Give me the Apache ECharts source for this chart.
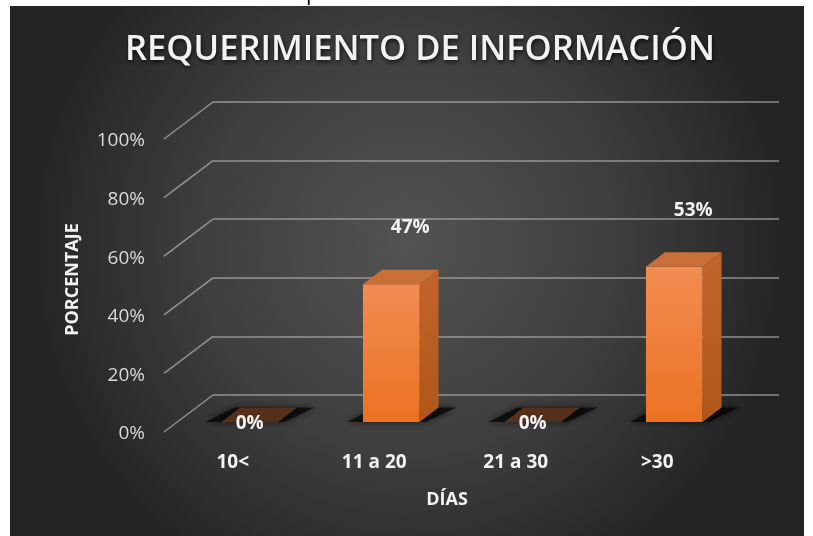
<!DOCTYPE html>
<html><head><meta charset="utf-8">
<script src="https://cdn.jsdelivr.net/npm/echarts@6/dist/echarts.min.js"></script>
<style>html,body{margin:0;padding:0;background:#fff}#c{width:813px;height:536px}</style>
</head><body><div id="c"></div>
<script>
const categories = ['10<', '11 a 20', '21 a 30', '>30'];
const values = [0, 0.47, 0, 0.53];
const yTicks = [0, 0.2, 0.4, 0.6, 0.8, 1];
const titleText = 'REQUERIMIENTO DE INFORMACIÓN';
const xName = 'DÍAS';
const yName = 'PORCENTAJE';

const FONT = '"Open Sans", sans-serif';
const chart = echarts.init(document.getElementById('c'), null, {renderer: 'canvas'});

const DEPTH = [19, -14.5];   // bar depth vector
const FRONT = [-34, 27];     // bar front face offset from back wall
const FLOOR = [-49, 37];     // floor front edge offset from back wall

function barItem(params, api) {
  const idx = api.value(0), v = api.value(1);
  const base = api.coord([idx, 0]);
  const top = api.coord([idx, v]);
  const bw = api.size([1, 0])[0] * 0.4;
  const cx = base[0] + FRONT[0];
  const x0 = cx - bw / 2, x1 = cx + bw / 2;
  const yb = base[1] + FRONT[1], yt = top[1] + FRONT[1];
  const dx = DEPTH[0], dy = DEPTH[1];
  const ch = [];
  ch.push({type: 'polygon', z2: 1,
    shape: {points: [[x0 - 16, yb], [x1 + 6, yb], [x1 + dx + 18, yb + dy], [x0 + dx - 6, yb + dy]]},
    style: {fill: 'rgba(0,0,0,0.65)', shadowBlur: 7, shadowColor: 'rgba(0,0,0,0.9)'}});
  if (v > 0) {
    ch.push({type: 'polygon', z2: 2,
      shape: {points: [[x1, yt], [x1 + dx, yt + dy], [x1 + dx, yb + dy], [x1, yb]]},
      style: {fill: {type: 'linear', x: 0, y: 0, x2: 0, y2: 1, colorStops: [{offset: 0, color: '#c2652a'}, {offset: 1, color: '#b0561b'}]}}});
    ch.push({type: 'rect', z2: 3,
      shape: {x: x0, y: yt, width: bw, height: yb - yt},
      style: {fill: {type: 'linear', x: 0, y: 0, x2: 0, y2: 1, colorStops: [{offset: 0, color: '#f28c52'}, {offset: 1, color: '#eb7222'}]}}});
  }
  ch.push({type: 'polygon', z2: 4,
    shape: {points: [[x0, yt], [x1, yt], [x1 + dx, yt + dy], [x0 + dx, yt + dy]]},
    style: {fill: v > 0 ? '#c96f38' : '#55301a'}});
  const lx = v > 0 ? cx + dx : cx;
  const ly = v > 0 ? yt + dy - 42 : yb + 2;
  ch.push({type: 'text', z2: 5,
    style: {text: Math.round(v * 100) + '%', x: lx, y: ly, align: 'center', verticalAlign: 'middle',
      fill: '#f2f2f2', font: 'bold 19px ' + FONT}});
  return {type: 'group', children: ch};
}

function gridDiag(params, api) {
  const p = api.coord([0, api.value(1)]);
  const gx = params.coordSys.x;
  return {type: 'line', shape: {x1: gx, y1: p[1], x2: gx + FLOOR[0], y2: p[1] + FLOOR[1]},
    style: {stroke: 'rgba(175,175,175,0.75)', lineWidth: 1.5}};
}

const option = {
  animation: false,
  graphic: [
    {type: 'text', z: -20, style: {text: 'p', x: 306, y: 5, verticalAlign: 'bottom', fill: '#000', font: '22px ' + FONT}},
    {type: 'rect', z: -10, shape: {x: 10, y: 6, width: 794, height: 530},
      style: {fill: {type: 'radial', x: 0.5, y: 0.45, r: 0.72,
        colorStops: [{offset: 0, color: '#525252'}, {offset: 0.55, color: '#3e3e3e'}, {offset: 1, color: '#242424'}]}}}
  ],
  title: {
    text: titleText, left: 415, top: 28, textAlign: 'center',
    textStyle: {fontFamily: FONT, fontSize: 34.5, fontWeight: 600, color: '#f2f2f2',
      textShadowColor: 'rgba(0,0,0,0.75)', textShadowBlur: 4, textShadowOffsetX: 1, textShadowOffsetY: 2}
  },
  grid: [
    {left: 213, right: 34, top: 102, bottom: 141, containLabel: false},
    {left: 213, right: 34, top: 141, bottom: 102, containLabel: false}
  ],
  xAxis: [{
    type: 'category', data: categories, gridIndex: 0,
    axisLine: {show: false}, axisTick: {show: false}, splitLine: {show: false},
    axisLabel: {margin: 68, verticalAlign: 'middle', padding: [0, 102, 0, 0],
      color: '#f2f2f2', fontFamily: FONT, fontWeight: 'bold', fontSize: 19},
    name: xName, nameLocation: 'middle', nameGap: 105,
    nameTextStyle: {verticalAlign: 'middle', padding: [0, 98, 0, 0], color: '#f2f2f2',
      fontFamily: FONT, fontWeight: 'bold', fontSize: 18}
  }, {
    type: 'category', data: categories, gridIndex: 1, show: false
  }],
  yAxis: [{
    type: 'value', min: 0, max: 1, interval: 0.2, gridIndex: 0,
    axisLine: {show: false}, axisTick: {show: false}, axisLabel: {show: false},
    splitLine: {show: true, lineStyle: {color: 'rgba(175,175,175,0.75)', width: 1.5}},
    name: yName, nameLocation: 'middle', nameGap: 131, nameRotate: 90,
    nameTextStyle: {padding: [0, 62, 0, 0], color: '#f2f2f2', fontFamily: FONT, fontWeight: 'bold', fontSize: 18}
  }, {
    type: 'value', min: 0, max: 1, interval: 0.2, gridIndex: 1,
    axisLine: {show: false}, axisTick: {show: false}, splitLine: {show: false},
    axisLabel: {margin: 68, color: '#d9d9d9', fontFamily: FONT, fontSize: 19,
      formatter: v => Math.round(v * 100) + '%'}
  }],
  series: [
    {type: 'custom', renderItem: gridDiag, data: yTicks.map(t => [0, t]), silent: true, z: 1},
    {type: 'custom', renderItem: barItem, data: values.map((v, i) => [i, v]), z: 3}
  ]
};
chart.setOption(option);
</script></body></html>
